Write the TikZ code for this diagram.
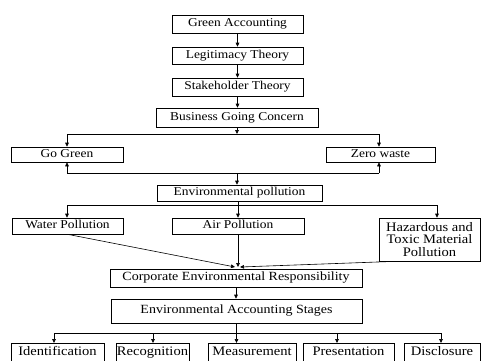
\documentclass[tikz,border=0pt]{standalone}
\usepackage{fontspec}
\setmainfont[FakeStretch=1.12]{Liberation Serif}
\usetikzlibrary{arrows.meta}
\tikzset{
 plainbox/.style={draw, line width=0.6pt, inner sep=1pt, align=center, font=\fontsize{12}{11.5}\selectfont},
 box/.style={plainbox, text height=8pt, text depth=2.5pt},
 midtext/.style={font=\fontsize{12.5}{12}\selectfont},
 bigtext/.style={font=\fontsize{13}{12.6}\selectfont},
 arr/.style={-{Triangle[length=4pt,width=3.6pt]}, line width=0.6pt},
}
\begin{document}
\begin{tikzpicture}[x=1pt,y=-1pt]
 \useasboundingbox (0,0) rectangle (483,360);
 \clip (0,0) rectangle (483,360);
 \node[box,minimum width=131pt,minimum height=18pt] (ga) at (237.5,24) {Green Accounting};
 \node[box,minimum width=131pt,minimum height=17pt] (lt) at (237.5,55.5) {Legitimacy Theory};
 \node[box,minimum width=131pt,minimum height=18pt] (st) at (237.5,87) {Stakeholder Theory};
 \node[box,minimum width=162pt,minimum height=19pt] (bgc) at (237,117.5) {Business Going Concern};
 \node[box,minimum width=112pt,minimum height=15pt] (gog) at (67,154.5) {Go Green};
 \node[box,minimum width=109pt,minimum height=15pt] (zw) at (380.5,154.5) {Zero waste};
 \node[box,minimum width=165pt,minimum height=16pt] (ep) at (239.5,193) {Environmental pollution};
 \node[box,minimum width=111pt,minimum height=16pt] (wp) at (67.5,226) {Water Pollution};
 \node[box,minimum width=132pt,minimum height=16pt] (ap) at (238,226) {Air Pollution};
 \node[plainbox,bigtext,minimum width=101pt,minimum height=43pt] (htmp) at (429.5,239.5) {Hazardous and\\Toxic Material\\Pollution};
 \node[box,midtext,minimum width=252pt,minimum height=18pt] (cer) at (236,278) {Corporate Environmental Responsibility};
 \node[box,midtext,minimum width=251pt,minimum height=24pt] (eas) at (236.5,311) {Environmental Accounting Stages};
 \node[box,bigtext,anchor=north,minimum width=93pt,minimum height=19pt] (idf) at (57.5,343) {Identification};
 \node[box,bigtext,anchor=north,minimum width=71pt,minimum height=19pt] (rec) at (152.5,343) {Recognition};
 \node[box,bigtext,anchor=north,minimum width=88pt,minimum height=19pt] (meas) at (252,343) {Measurement};
 \node[box,bigtext,anchor=north,minimum width=91pt,minimum height=19pt] (pres) at (348.5,343) {Presentation};
 \node[box,bigtext,anchor=north,minimum width=76pt,minimum height=19pt] (disc) at (442,343) {Disclosure};

 \coordinate (j1) at (237,134);
 \coordinate (gl1) at (67,134);
 \coordinate (gr1) at (379,134);
 \coordinate (j2) at (237,173);
 \coordinate (gl2) at (67,173);
 \coordinate (gr2) at (379,173);
 \coordinate (pl) at (67,205);
 \coordinate (pr) at (437,205);
 \coordinate (m) at (237,267);
 \coordinate (s1) at (54,333);
 \coordinate (s2) at (153,333);
 \coordinate (s4) at (337,333);
 \coordinate (s5) at (441,333);

 \draw[arr] (ga) -- (lt);
 \draw[arr] (lt) -- (st);
 \draw[arr] (st.south) -- (st.south |- bgc.north);
 \draw[arr] (bgc.south) -- (j1);
 \draw (gl1) -- (gr1);
 \draw[arr] (gl1) -- (gl1 |- gog.north);
 \draw[arr] (gr1) -- (gr1 |- zw.north);
 \draw (gl2) -- (gr2);
 \draw[arr] (gl2) -- (gl2 |- gog.south);
 \draw[arr] (gr2) -- (gr2 |- zw.south);
 \draw[arr] (j2) -- (j2 |- ep.north);
 \draw (pl) -- (pr);
 \draw[arr] (pl) -- (pl |- wp.north);
 \draw[arr] (pr) -- (pr |- htmp.north);
 \draw[arr] (ap.north |- ep.south) -- (ap.north);
 \draw[arr] (wp.south) -- ([xshift=-2pt]m);
 \draw[arr] (ap.south) -- (ap.south |- m);
 \draw[arr] ([xshift=18pt]htmp.south west) -- ([xshift=3pt]m);
 \draw[arr] (cer.south) -- (cer.south |- eas.north);
 \draw (s1) -- (s5);
 \draw[arr] (eas.south) -- (eas.south |- meas.north);
 \draw[arr] (s1) -- (s1 |- idf.north);
 \draw[arr] (s2) -- (s2 |- rec.north);
 \draw[arr] (s4) -- (s4 |- pres.north);
 \draw[arr] (s5) -- (s5 |- disc.north);
\end{tikzpicture}
\end{document}
